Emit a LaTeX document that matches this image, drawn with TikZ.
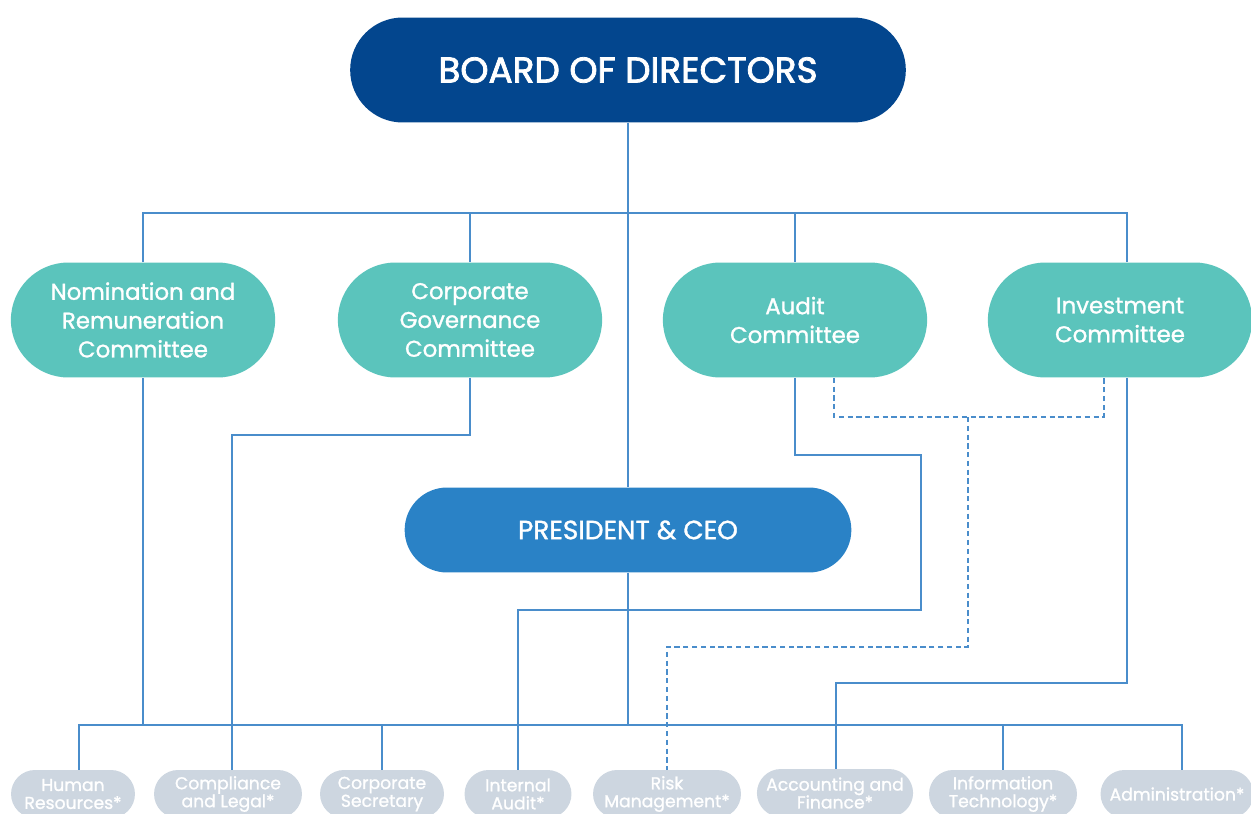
\documentclass[tikz,border=0pt]{standalone}
\usepackage{fontspec}
\setmainfont{Poppins}
\newfontfamily\mediumFont{Poppins}[FakeBold=1.2]
\newfontfamily\heavyFont{Poppins}[FakeBold=2.2]
\usepackage{xcolor}
\usetikzlibrary{shapes.misc,positioning}
\definecolor{boardBlue}{HTML}{03468E}
\definecolor{ceoBlue}{HTML}{2A82C6}
\definecolor{teal}{HTML}{5BC4BC}
\definecolor{unitGray}{HTML}{CDD6E0}
\definecolor{lineBlue}{HTML}{4A8DCB}
\tikzset{
  boardBox/.style={
    rounded rectangle,
    fill=boardBlue,
    text=white,
    minimum width=11.35cm,
    minimum height=2.1cm,
    font=\heavyFont\fontsize{20.4}{23}\selectfont,
    align=center
  },
  ceoBox/.style={
    rounded rectangle,
    fill=ceoBlue,
    text=white,
    minimum width=9.17cm,
    minimum height=1.7cm,
    font=\mediumFont\fontsize{15}{18}\selectfont,
    align=center
  },
  committeeBox/.style={
    rounded rectangle,
    fill=teal,
    text=white,
    minimum width=5.52cm,
    minimum height=2.3cm,
    font=\mediumFont\fontsize{13}{16.4}\selectfont,
    align=center
  },
  unitBox/.style={
    rounded rectangle,
    fill=unitGray,
    text=white,
    minimum height=0.96cm,
    inner xsep=2pt,
    font=\mediumFont\fontsize{9.8}{10.2}\selectfont,
    align=center
  },
  linkLine/.style={
    draw=lineBlue,
    line width=0.7pt
  },
  dottedLink/.style={
    linkLine,
    dash pattern=on 3pt off 2pt
  }
}
\begin{document}
\begin{tikzpicture}[x=0.02cm,y=-0.02cm]
  \useasboundingbox (0,0) rectangle (1251,814);

  % top of the chart
  \node[boardBox] (board) at (628,70) {BOARD OF DIRECTORS};
  \node[committeeBox] (nomination) at (143,320) {Nomination and\\Remuneration\\Committee};
  \node[committeeBox] (governance) at (470,320) {Corporate\\Governance\\Committee};
  \node[committeeBox] (audit) at (795,320) {Audit\\Committee};
  \node[committeeBox] (investment) at (1120,320) {Investment\\Committee};
  \node[ceoBox] (ceo) at (628,530) {PRESIDENT \& CEO};

  % units
  \node[unitBox, minimum width=2.62cm] (hr) at (73,794) {Human\\Resources*};
  \node[unitBox, minimum width=3.1cm] (legal) at (228,794) {Compliance\\and Legal*};
  \node[unitBox, minimum width=2.62cm] (secretary) at (382,794) {Corporate\\Secretary};
  \node[unitBox, minimum width=2.28cm] (intaudit) at (518,794) {Internal\\Audit*};
  \node[unitBox, minimum width=3.1cm] (risk) at (667,794) {Risk\\Management*};
  \node[unitBox, minimum width=3.1cm] (finance) at (835,793) {Accounting and\\Finance*};
  \node[unitBox, minimum width=3.1cm] (it) at (1003,794) {Information\\Technology*};
  \node[unitBox, minimum width=3.2cm] (admin) at (1177,794) {Administration*};

  \coordinate (topBus) at (628,213);
  \coordinate (lowBus) at (628,725);

  % board to committees and ceo
  \draw[linkLine] (board.south) -- (ceo.north);
  \draw[linkLine] (nomination.north) |- (topBus) -| (investment.north -| 1127,0);
  \draw[linkLine] (governance.north) -- (governance.north |- topBus);
  \draw[linkLine] (audit.north) -- (audit.north |- topBus);

  % ceo to units
  \draw[linkLine] (ceo.south) -- (lowBus);
  \draw[linkLine] (hr.north -| 79,0) |- (lowBus) -| (admin.north -| 1182,0);
  \foreach \u/\ux in {legal/232,secretary/382,intaudit/518,finance/836,it/1003}
    \draw[linkLine] (\u.north -| \ux,0) -- (\ux,725);
  \draw[linkLine] (nomination.south) -- (nomination.south |- lowBus);

  % committee reporting lines
  \draw[linkLine] (governance.south) -- (470,435) -| (legal.north -| 232,0);
  \draw[linkLine] (audit.south) -- (795,455) -- (921,455) -- (921,610) -| (intaudit.north);
  \draw[linkLine] (investment.south -| 1127,0) -- (1127,683) -| (finance.north -| 836,0);
  \draw[dottedLink] (audit.south -| 834,0) -- (834,417) -| (investment.south -| 1104,0);
  \draw[dottedLink] (968,417) -- (968,647) -| (risk.north);
\end{tikzpicture}
\end{document}
